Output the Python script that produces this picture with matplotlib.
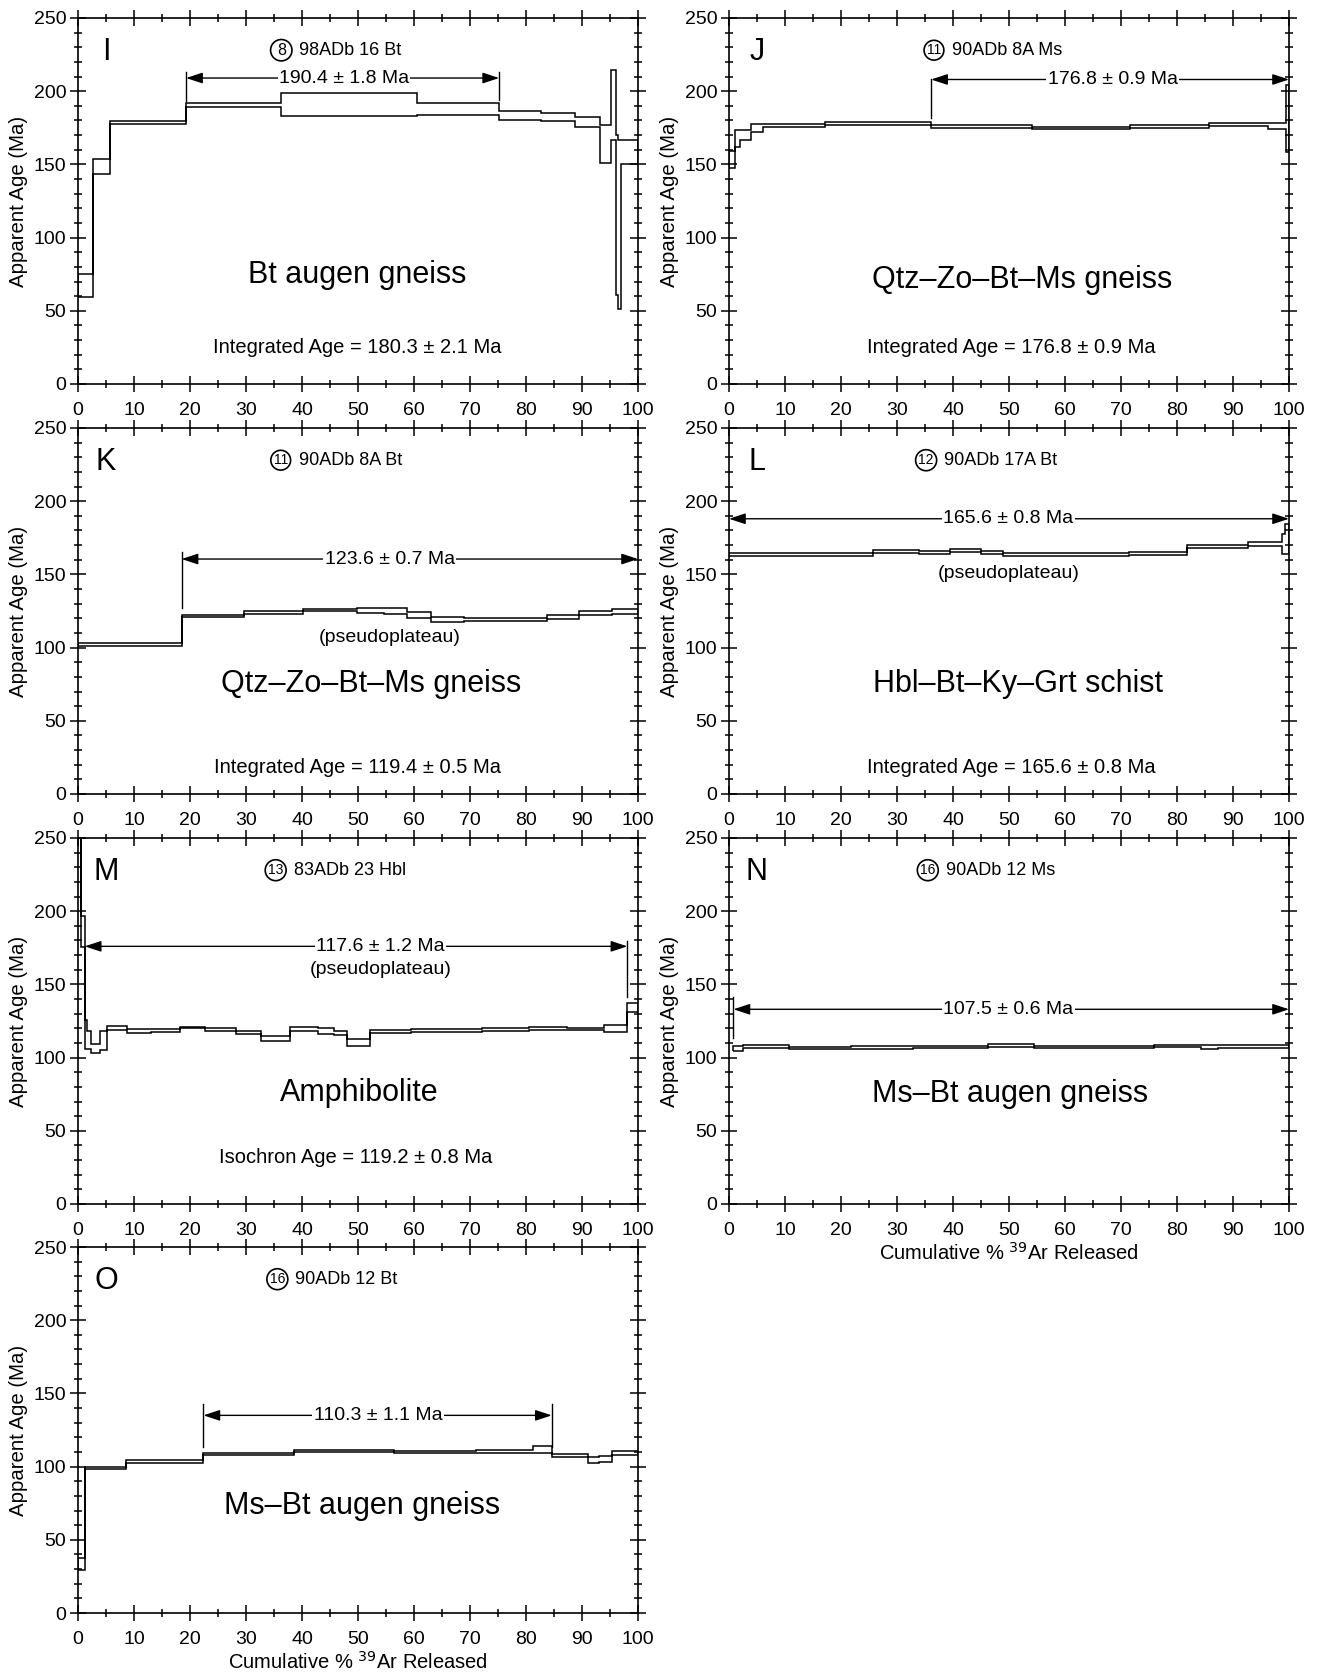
import matplotlib
matplotlib.use("Agg")
import matplotlib.pyplot as plt
from matplotlib.ticker import MultipleLocator
from matplotlib.patches import ArrowStyle

plt.rcParams['font.family'] = ['Liberation Sans', 'DejaVu Sans']

# Step-heating spectra: step edges (cumulative % 39Ar), lower and upper age (Ma)

# I - 98ADb 16 Bt
I_edges = [0, 2.7, 5.7, 19.3, 36.2, 60.5, 75.2, 82.7, 88.8, 93.2, 95.1, 96.0, 96.4, 96.9, 100]
I_lo = [59.2, 143.7, 177.6, 189.4, 183.3, 183.7, 180.3, 179.4, 175.5, 151.0, 166.9, 61.0, 51.2, 150.5]
I_hi = [75.4, 153.5, 179.6, 191.7, 198.5, 192.2, 186.5, 185.1, 182.6, 176.7, 214.3, 169.9, 166.9, 166.9]

# J - 90ADb 8A Ms
J_edges = [0, 1.0, 2.0, 3.9, 6.1, 17.2, 36.1, 54.1, 71.6, 85.8, 96.2, 99.5, 100]
J_lo = [147.5, 162.1, 166.7, 172.4, 175.3, 176.9, 175.1, 174.0, 174.6, 176.2, 174.1, 158.5]
J_hi = [158.9, 173.7, 173.7, 177.6, 177.4, 179.2, 176.9, 175.8, 176.7, 178.3, 178.1, 204.0]

# K - 90ADb 8A Bt
K_edges = [0, 18.5, 29.6, 40.2, 49.9, 54.7, 58.8, 63.1, 68.9, 77.8, 83.8, 89.4, 95.3, 100]
K_lo = [101.4, 120.8, 122.8, 124.7, 123.5, 122.8, 119.9, 117.8, 118.5, 118.5, 119.6, 122.4, 123.1]
K_hi = [103.4, 122.4, 125.3, 126.3, 126.9, 126.9, 124.2, 121.0, 120.5, 120.5, 122.6, 125.3, 126.7]

# L - 90ADb 17A Bt
L_edges = [0, 25.8, 33.9, 39.5, 45.0, 49.0, 56.0, 71.4, 81.7, 92.6, 98.7, 99.2, 100]
L_lo = [162.6, 164.4, 164.2, 165.3, 163.9, 162.8, 162.6, 163.5, 167.8, 169.4, 164.2, 164.2]
L_hi = [164.4, 166.4, 166.2, 167.6, 166.2, 164.6, 164.4, 165.3, 169.9, 172.2, 177.9, 184.3]

# M - 83ADb 23 Hbl
M_edges = [0, 0.5, 1.2, 1.6, 2.3, 3.9, 5.1, 8.8, 13.0, 18.3, 22.6, 28.2, 32.6, 34.9, 37.8,
           42.8, 45.8, 48.1, 52.1, 59.5, 72.2, 80.6, 87.4, 93.9, 98.1, 100]
M_lo = [260.0, 175.3, 105.9, 106.2, 103.4, 105.0, 118.7, 116.9, 117.8, 119.9, 118.3, 116.4, 111.4,
        111.4, 118.5, 116.2, 115.1, 107.8, 116.7, 117.8, 118.5, 119.0, 118.7, 117.6, 131.1]
M_hi = [330.0, 197.0, 126.0, 118.3, 109.1, 118.0, 121.7, 119.4, 119.4, 121.2, 120.5, 118.5, 114.8,
        114.8, 121.0, 120.3, 118.3, 112.6, 118.7, 119.6, 120.1, 120.8, 120.3, 122.6, 137.2]

# N - 90ADb 12 Ms
N_edges = [0.8, 2.5, 10.7, 21.8, 32.8, 46.3, 54.4, 66.1, 75.9, 84.2, 87.4, 100]
N_lo = [104.6, 106.6, 106.2, 106.2, 106.6, 107.3, 106.4, 106.6, 107.3, 105.9, 106.8]
N_hi = [108.0, 108.9, 107.5, 108.0, 108.0, 109.4, 108.0, 108.0, 108.7, 108.7, 108.4]

# O - 90ADb 12 Bt
O_edges = [0, 1.3, 8.5, 22.4, 38.6, 56.4, 71.1, 81.3, 84.6, 91.0, 93.1, 95.3, 100]
O_lo = [29.6, 98.2, 102.7, 108.2, 110.0, 109.3, 109.6, 109.3, 106.6, 102.5, 103.4, 108.2]
O_hi = [37.6, 100.0, 104.3, 109.6, 111.2, 110.7, 111.4, 113.9, 108.4, 106.6, 107.5, 110.7]

# plateau: start, end, arrow age, label
plateaus = {
    'I': (19.3, 75.2, 209, '190.4 ± 1.8 Ma'),
    'J': (36.1, 100, 208, '176.8 ± 0.9 Ma'),
    'K': (18.5, 100, 160.5, '123.6 ± 0.7 Ma'),
    'L': (0, 100, 188, '165.6 ± 0.8 Ma'),
    'M': (1.2, 98.1, 176, '117.6 ± 1.2 Ma'),
    'N': (0.8, 100, 133, '107.5 ± 0.6 Ma'),
    'O': (22.4, 84.6, 135, '110.3 ± 1.1 Ma'),
}
samples = {
    'I': ('8', '98ADb 16 Bt'), 'J': ('11', '90ADb 8A Ms'), 'K': ('11', '90ADb 8A Bt'),
    'L': ('12', '90ADb 17A Bt'), 'M': ('13', '83ADb 23 Hbl'), 'N': ('16', '90ADb 12 Ms'),
    'O': ('16', '90ADb 12 Bt'),
}
rocks = {
    'I': 'Bt augen gneiss', 'J': 'Qtz–Zo–Bt–Ms gneiss', 'K': 'Qtz–Zo–Bt–Ms gneiss',
    'L': 'Hbl–Bt–Ky–Grt schist', 'M': 'Amphibolite', 'N': 'Ms–Bt augen gneiss',
    'O': 'Ms–Bt augen gneiss',
}
ages_text = {
    'I': 'Integrated Age = 180.3 ± 2.1 Ma', 'J': 'Integrated Age = 176.8 ± 0.9 Ma',
    'K': 'Integrated Age = 119.4 ± 0.5 Ma', 'L': 'Integrated Age = 165.6 ± 0.8 Ma',
    'M': 'Isochron Age = 119.2 ± 0.8 Ma',
}

spectra = {
    'I': (I_edges, I_lo, I_hi), 'J': (J_edges, J_lo, J_hi), 'K': (K_edges, K_lo, K_hi),
    'L': (L_edges, L_lo, L_hi), 'M': (M_edges, M_lo, M_hi), 'N': (N_edges, N_lo, N_hi),
    'O': (O_edges, O_lo, O_hi),
}

# layout (figure fractions)
W, H = 1317, 1673
col_left = [78 / W, 729 / W]
row_top = [18, 428, 838, 1247]
ax_w = 560 / W
ax_h = 366 / H
pos = {'I': (0, 0), 'J': (1, 0), 'K': (0, 1), 'L': (1, 1), 'M': (0, 2), 'N': (1, 2), 'O': (0, 3)}

# per-panel text placement (x, y in data units)
rock_xy = {'I': (49.9, 74.7), 'J': (52.3, 71.3), 'K': (52.3, 74.9), 'L': (51.6, 74.9),
           'M': (50.2, 75.8), 'N': (50.2, 74.9), 'O': (50.8, 72.9)}
age_y = {'I': 24.6, 'J': 24.6, 'K': 18.3, 'L': 18.3, 'M': 32}
age_x = {'I': 49.8, 'J': 50.5, 'K': 50.0, 'L': 50.5, 'M': 49.5}
sample_x = {'I': 36.3, 'J': 36.6, 'K': 36.2, 'L': 35.2, 'M': 35.3, 'N': 35.5, 'O': 35.6}
plat_label_x = {'I': 47.5, 'J': 68.5, 'K': 55.7, 'L': 49.9, 'M': 54.0, 'N': 49.9, 'O': 53.6}
# vertical end markers of plateau (x, y0, y1)
plat_marks = {
    'I': [(19.3, 193.5, 213), (75.2, 194, 213)],
    'J': [(36.1, 181.7, 208)],
    'K': [(18.5, 126.9, 165.5)],
    'M': [(98.1, 141.6, 179.9)],
    'N': [(0.8, 113.7, 141.6)],
    'O': [(22.4, 113.4, 143), (84.6, 113.4, 143)],
}

fig = plt.figure(figsize=(W / 100, H / 100), dpi=100)
arrow = ArrowStyle('<|-|>', head_length=1.0, head_width=0.33)

for key, (c, r) in pos.items():
    left = col_left[c]
    bottom = 1 - (row_top[r] + 366) / H
    ax = fig.add_axes([left, bottom, ax_w, ax_h])
    edges, lo, hi = spectra[key]
    ax.stairs(hi, edges, baseline=lo, fill=False, color='black', lw=1.1)

    ax.set_xlim(0, 100)
    ax.set_ylim(0, 250)
    ax.xaxis.set_major_locator(MultipleLocator(10))
    ax.xaxis.set_minor_locator(MultipleLocator(5))
    ax.yaxis.set_major_locator(MultipleLocator(50))
    ax.yaxis.set_minor_locator(MultipleLocator(10))
    ax.tick_params(which='both', direction='inout', top=True, right=True, width=1.1)
    ax.tick_params(which='major', length=11, labelsize=14)
    ax.tick_params(which='minor', length=6)
    ax.tick_params(axis='x', pad=7.3)
    ax.tick_params(axis='y', pad=3)
    for s in ax.spines.values():
        s.set_linewidth(1.2)
    ax.set_ylabel('Apparent Age (Ma)', fontsize=14.7)
    ax.yaxis.set_label_coords(-0.089, 0.5)

    # panel letter
    ax.text(5, 227, key, fontsize=22, ha='center', va='center')

    # sample label with circled map number
    num, name = samples[key]
    sx = sample_x[key]
    ax.text(sx, 228, num, fontsize=11.5 if len(num) == 1 else 10, ha='center', va='center',
            bbox=dict(boxstyle='circle,pad=0.2', fc='white', ec='black', lw=1.2))
    ax.text(sx + 3.2, 228, name, fontsize=13, ha='left', va='center')

    # plateau arrow
    x0, x1, py, lab = plateaus[key]
    ax.annotate('', xy=(x1, py), xytext=(x0, py),
                arrowprops=dict(arrowstyle=arrow, color='black', lw=1.0,
                                mutation_scale=10, shrinkA=0, shrinkB=0))
    ax.text(plat_label_x[key], py, lab, fontsize=14, ha='center', va='center',
            bbox=dict(fc='white', ec='none', pad=1.0))
    for mx, y0, y1 in plat_marks.get(key, []):
        ax.plot([mx, mx], [y0, y1], color='black', lw=1.0)

    if key in ('K', 'L'):
        ax.text(plat_label_x[key], 106.6 if key == 'K' else 150.7, '(pseudoplateau)',
                fontsize=14, ha='center', va='center')
    if key == 'M':
        ax.text(54.0, 160.5, '(pseudoplateau)', fontsize=14, ha='center', va='center')

    rx, ry = rock_xy[key]
    ax.text(rx, ry, rocks[key], fontsize=22, ha='center', va='center')
    if key in ages_text:
        ax.text(age_x[key], age_y[key], ages_text[key], fontsize=14.5, ha='center', va='center')

    if key in ('N', 'O'):
        ax.set_xlabel('Cumulative % $^{39}$Ar Released', fontsize=14.5, labelpad=2)

fig.savefig('out.png', dpi=100)
